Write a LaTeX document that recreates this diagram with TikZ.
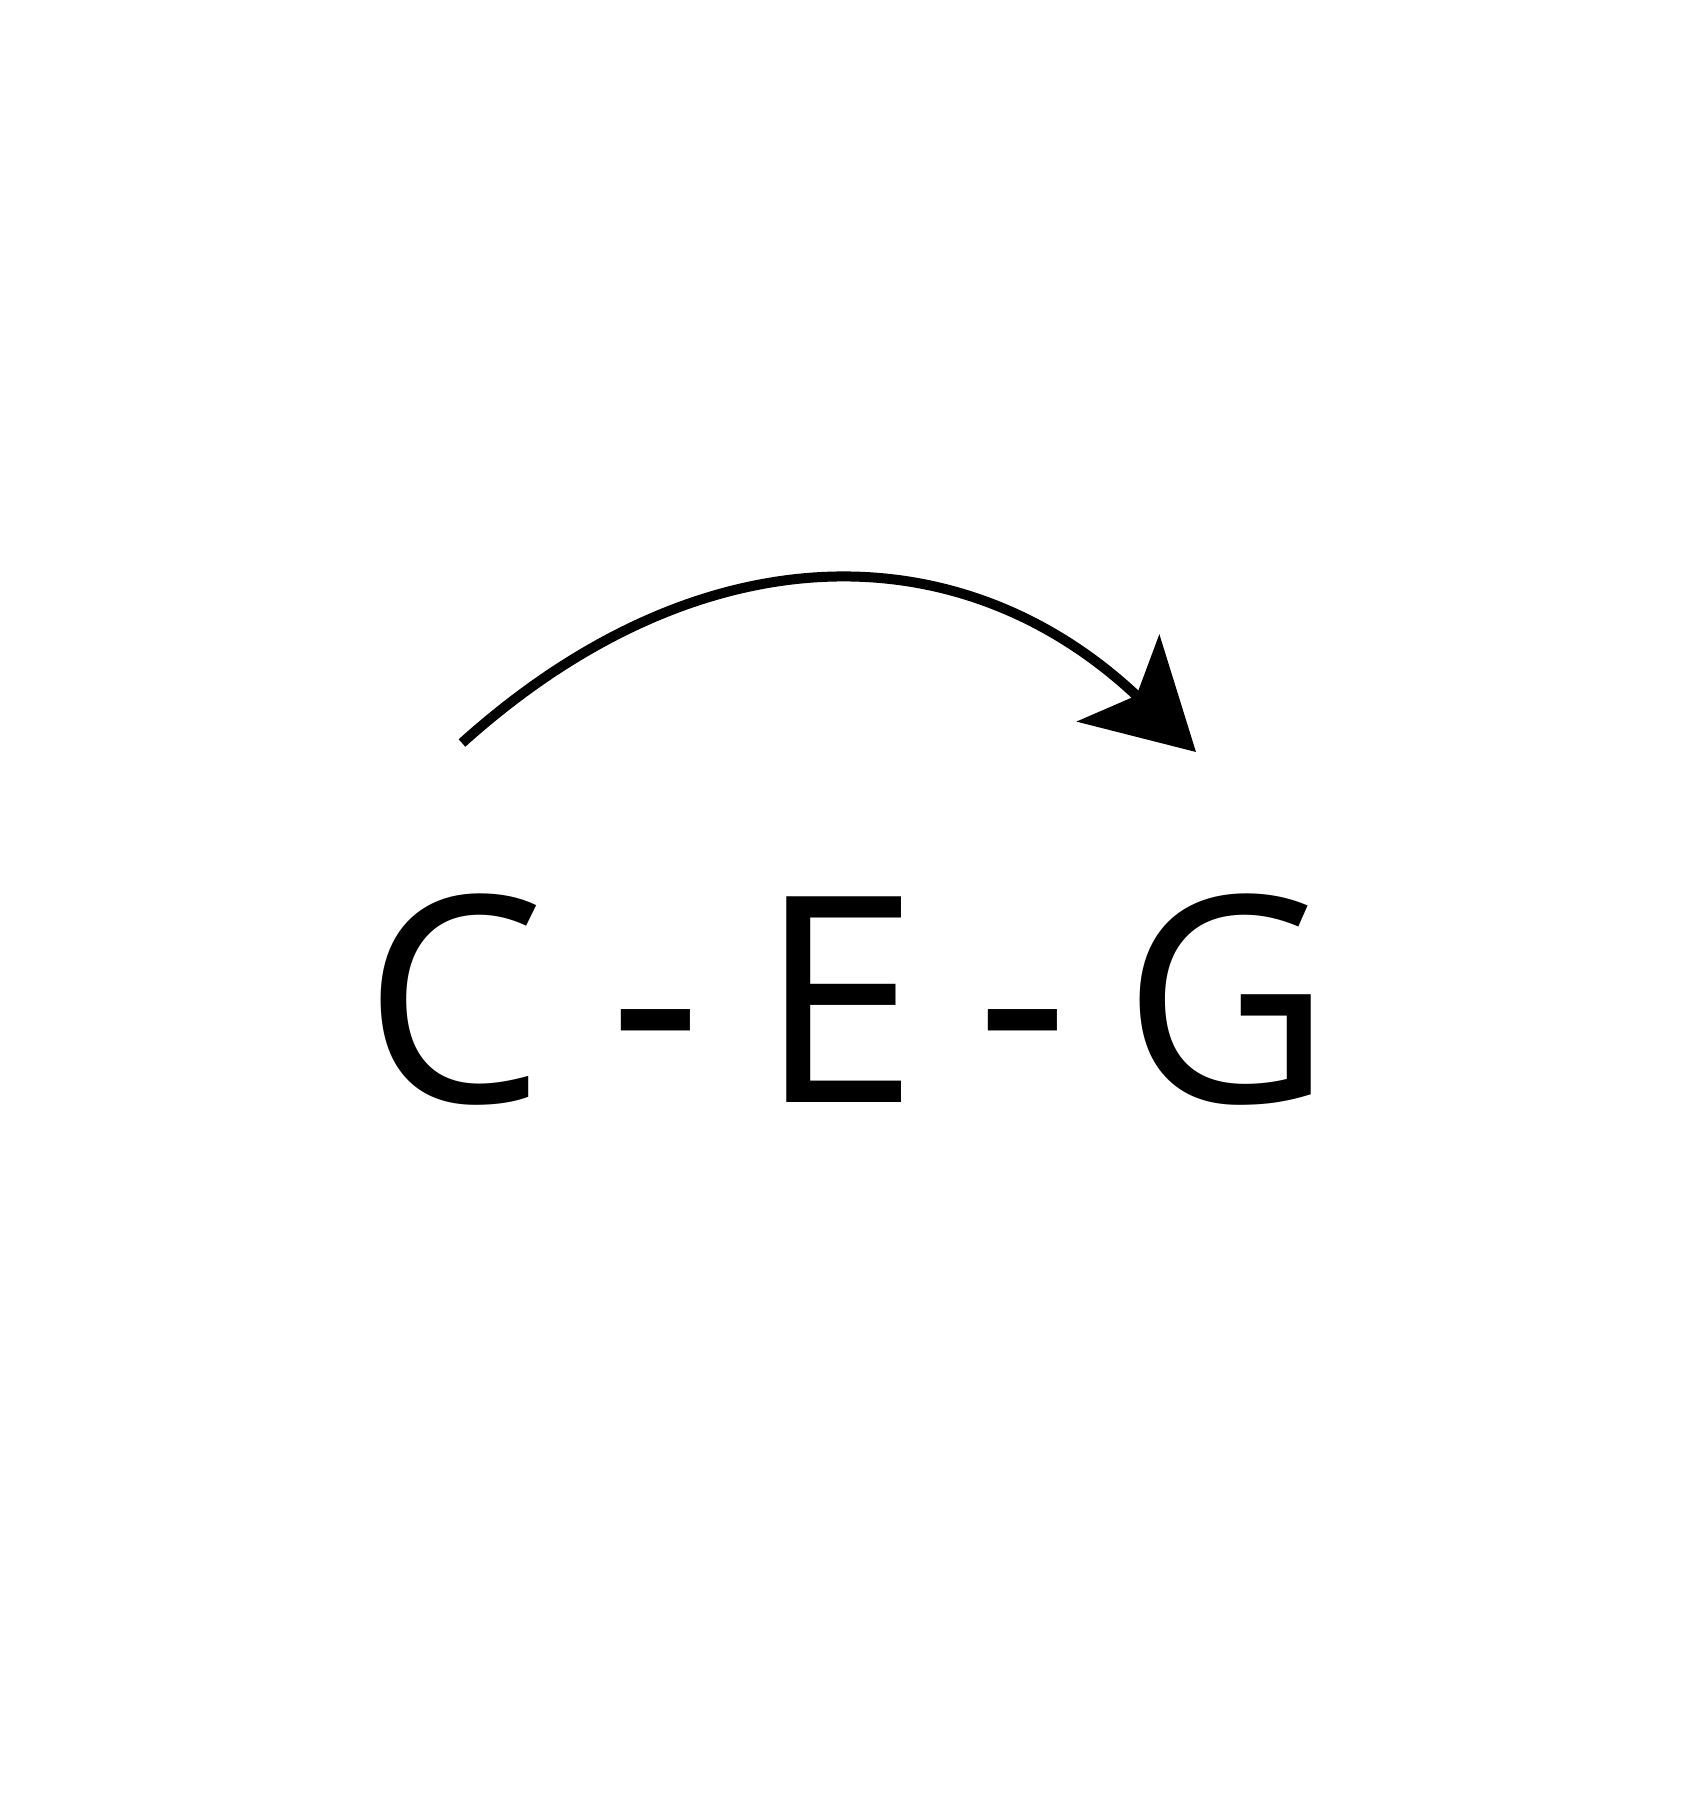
\documentclass[tikz,border=0pt]{standalone}
\usepackage{fontspec}
\setmainfont{Open Sans}
\usetikzlibrary{arrows.meta}
\tikzset{
  chord/.style={font=\fontsize{82}{90}\selectfont, inner sep=0pt, anchor=base},
  hop/.style={draw, line width=0.1cm, -{Stealth[length=1.07cm, width=1.19cm, inset=0.25cm]}}
}
\begin{document}
\begin{tikzpicture}
\useasboundingbox (0,0) rectangle (16.92,-18);
\node[chord] (C) at (4.54,-11.02) {C};
\node[chord] (d1) at (6.56,-10.97) {-};
\node[chord] (E) at (8.39,-11.02) {E};
\node[chord] (d2) at (10.23,-10.97) {-};
\node[chord] (G) at (12.27,-11.02) {G};
\coordinate (from) at (4.62,-7.43);
\coordinate (to) at (11.96,-7.52);
\draw[hop] (from) to[out=42, in=136.5, looseness=1.12] (to);
\end{tikzpicture}
\end{document}
